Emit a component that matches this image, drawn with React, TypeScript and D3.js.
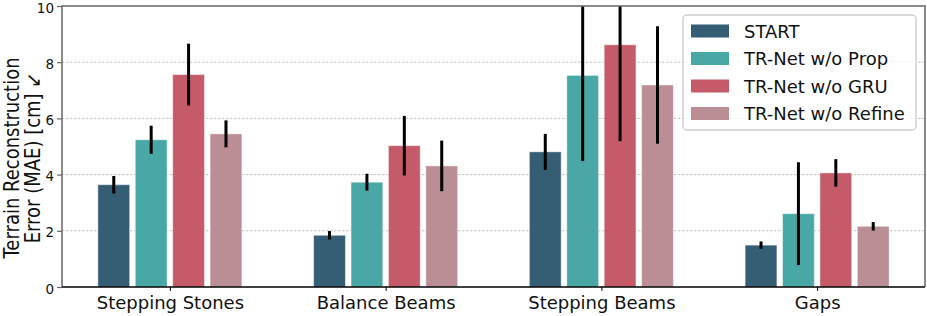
import React, { useEffect, useRef } from "react";
import * as d3 from "d3";

const categories = ["Stepping Stones", "Balance Beams", "Stepping Beams", "Gaps"];
const seriesNames = ["START", "TR-Net w/o Prop", "TR-Net w/o GRU", "TR-Net w/o Refine"];
const colors = ["#355d73", "#49a8a6", "#c55b69", "#ba8e94"];

// mean error per category, one array per series
const startVals = [3.64, 1.84, 4.81, 1.49];
const propVals = [5.24, 3.73, 7.53, 2.61];
const gruVals = [7.56, 5.03, 8.62, 4.06];
const refineVals = [5.45, 4.31, 7.19, 2.16];

// half-length of error bars
const startErr = [0.31, 0.15, 0.64, 0.13];
const propErr = [0.5, 0.3, 3.05, 1.83];
const gruErr = [1.1, 1.06, 3.43, 0.49];
const refineErr = [0.48, 0.9, 2.09, 0.15];

const yTicks = [0, 2, 4, 6, 8, 10];

function Chart() {
  const svgRef = useRef<SVGSVGElement>(null);

  useEffect(() => {
    const w = 927;
    const h = 316;
    const m = { left: 62, right: 2, top: 6, bottom: 29 };
    const font = "DejaVu Sans, sans-serif";

    const values = [startVals, propVals, gruVals, refineVals];
    const errs = [startErr, propErr, gruErr, refineErr];

    const svg = d3.select(svgRef.current).attr("width", w).attr("height", h);
    svg.selectAll("*").remove();

    const x0 = d3
      .scalePoint<string>()
      .domain(categories)
      .range([m.left, w - m.right])
      .padding(0.5);

    const x1 = d3
      .scaleBand<string>()
      .domain(seriesNames)
      .range([-72, 72])
      .paddingInner(0.15);

    const y = d3
      .scaleLinear()
      .domain([0, 10])
      .range([h - m.bottom, m.top]);

    // grid
    svg
      .append("g")
      .selectAll("line")
      .data(yTicks.slice(1, -1))
      .join("line")
      .attr("x1", m.left)
      .attr("x2", w - m.right)
      .attr("y1", (d) => y(d))
      .attr("y2", (d) => y(d))
      .attr("stroke", "#b0b0b0")
      .attr("stroke-width", 0.8)
      .attr("stroke-dasharray", "2.5,1.5");

    svg
      .append("clipPath")
      .attr("id", "plotclip")
      .append("rect")
      .attr("x", m.left)
      .attr("y", m.top)
      .attr("width", w - m.left - m.right)
      .attr("height", h - m.top - m.bottom);

    const bars = svg.append("g").attr("clip-path", "url(#plotclip)");

    seriesNames.forEach((s, si) => {
      const g = bars.append("g");
      g.selectAll("rect")
        .data(categories)
        .join("rect")
        .attr("x", (c) => (x0(c) as number) + (x1(s) as number))
        .attr("width", x1.bandwidth())
        .attr("y", (c, i) => y(values[si][i]))
        .attr("height", (c, i) => y(0) - y(values[si][i]))
        .attr("fill", colors[si])
        .attr("stroke", "#ffffff")
        .attr("stroke-opacity", 0.45)
        .attr("stroke-width", 1);

      g.selectAll("line")
        .data(categories)
        .join("line")
        .attr("x1", (c) => (x0(c) as number) + (x1(s) as number) + x1.bandwidth() / 2)
        .attr("x2", (c) => (x0(c) as number) + (x1(s) as number) + x1.bandwidth() / 2)
        .attr("y1", (c, i) => y(values[si][i] - errs[si][i]))
        .attr("y2", (c, i) => y(values[si][i] + errs[si][i]))
        .attr("stroke", "#000")
        .attr("stroke-width", 3);
    });

    // y axis
    const yAxis = d3
      .axisLeft(y)
      .tickValues(yTicks)
      .tickSize(5)
      .tickPadding(3)
      .tickFormat(d3.format("d"));
    const ya = svg.append("g").attr("transform", `translate(${m.left},0)`).call(yAxis);
    ya.select(".domain").remove();
    ya.selectAll("line").attr("stroke", "#666").attr("stroke-width", 1.2);
    ya.selectAll("text")
      .attr("font-family", font)
      .attr("font-size", 13.5)
      .attr("dy", "0.45em")
      .attr("fill", "#111");

    // x axis
    const xAxis = d3.axisBottom(x0).tickSize(4).tickPadding(5);
    const xa = svg.append("g").attr("transform", `translate(0,${h - m.bottom})`).call(xAxis);
    xa.select(".domain").remove();
    xa.selectAll("line").attr("stroke", "#000");
    xa.selectAll("text").attr("font-family", font).attr("font-size", 18).attr("fill", "#111");

    // spines
    svg
      .append("path")
      .attr("d", `M${m.left},${h - m.bottom}V${m.top}H${w - m.right}V${h - m.bottom}`)
      .attr("fill", "none")
      .attr("stroke", "#666")
      .attr("stroke-width", 1.5);
    svg
      .append("line")
      .attr("x1", m.left)
      .attr("x2", w - m.right)
      .attr("y1", h - m.bottom)
      .attr("y2", h - m.bottom)
      .attr("stroke", "#000")
      .attr("stroke-width", 1.5);

    // y label
    const yl = svg
      .append("text")
      .attr("transform", `translate(0,158) rotate(-90) scale(1,1.15)`)
      .attr("font-family", font)
      .attr("font-size", 18)
      .attr("fill", "#111")
      .attr("text-anchor", "middle");
    yl.append("tspan").attr("x", 0).attr("y", 16.5).text("Terrain Reconstruction");
    yl.append("tspan").attr("x", 0).attr("y", 35.2).text("Error (MAE) [cm] \u2199");

    // legend
    const lg = svg.append("g").attr("transform", "translate(683,15)");
    lg.append("rect")
      .attr("width", 233)
      .attr("height", 115)
      .attr("rx", 4)
      .attr("fill", "#fff")
      .attr("fill-opacity", 0.8)
      .attr("stroke", "#d0d0d0")
      .attr("stroke-width", 1.5);
    seriesNames.forEach((s, i) => {
      const row = lg.append("g").attr("transform", `translate(0,${16 + i * 27.5})`);
      row.append("rect")
        .attr("x", 8)
        .attr("y", -6.5)
        .attr("width", 38)
        .attr("height", 13)
        .attr("fill", colors[i]);
      row.append("text")
        .attr("x", 61)
        .attr("y", 6.5)
        .attr("font-family", font)
        .attr("font-size", 18)
        .attr("fill", "#111")
        .text(s);
    });
  }, []);

  return <svg ref={svgRef} style={{ position: "absolute", left: 0, top: 0 }}></svg>;
}

export default function App() {
  return (
    <div>
      <Chart />
    </div>
  );
}
